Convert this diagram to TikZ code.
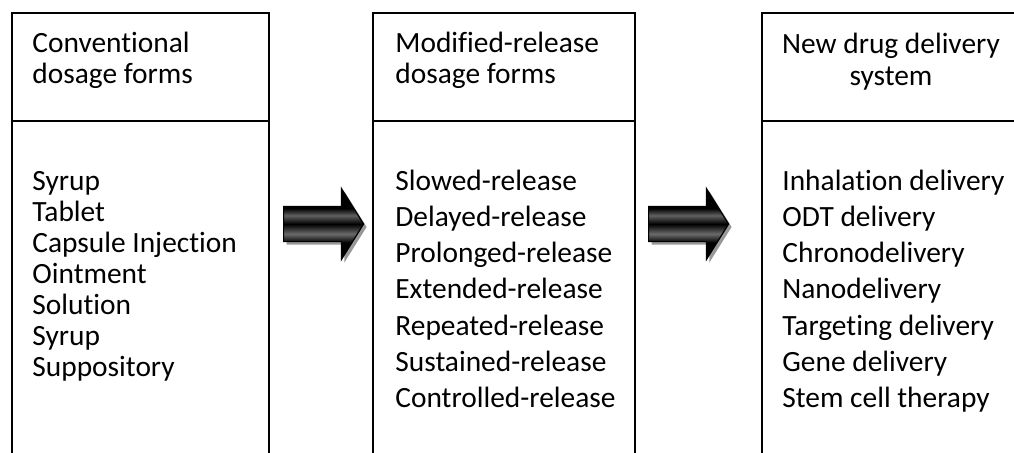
\documentclass[tikz,border=0pt]{standalone}
\usepackage{fontspec}
\setmainfont{Carlito}[Ligatures=CommonOff]
\usetikzlibrary{shapes.arrows,shadows}

% dark arrow body, lighter bands above and below the middle
\pgfdeclareverticalshading{arrowshade}{100bp}{color(0bp)=(black); color(37bp)=(black); color(43bp)=(black!58); color(50bp)=(black); color(56bp)=(black!62); color(61bp)=(black); color(100bp)=(black)}

\tikzset{
  panel/.style={draw=black, line width=1pt},
  item/.style={anchor=base west, inner sep=0pt, font=\fontsize{14.7pt}{17pt}\selectfont},
  headc/.style={anchor=base, inner sep=0pt, font=\fontsize{14.7pt}{17pt}\selectfont},
  blockarrow/.style={single arrow, draw=black, line width=0.6pt, shading=arrowshade,
    inner sep=0pt, text height=8.5pt, text depth=8.5pt, minimum height=40pt,
    single arrow head extend=9pt, single arrow tip angle=116,
    drop shadow={shadow xshift=1.5pt, shadow yshift=-1.5pt, fill=black!40, opacity=1}}
}

\begin{document}
\begin{tikzpicture}[x=0.5pt,y=-0.5pt]
\useasboundingbox (0,0) rectangle (1014,452);
\clip (0,0) rectangle (1014,452);

% three boxes with their title strip
\draw [panel] (12,13) rectangle (269,480);
\draw [panel] (12,121) -- (269,121);
\draw [panel] (373,13) rectangle (635,480);
\draw [panel] (373,121) -- (635,121);
\draw [panel] (762,13) rectangle (1022,480);
\draw [panel] (762,121) -- (1022,121);

% titles
\node [item] (convtitleA) at (32,52) {Conventional};
\node [item] (convtitleB) at (32,83) {dosage forms};
\node [item] (modtitleA) at (395,52) {Modified-release};
\node [item] (modtitleB) at (395,83) {dosage forms};
\node [headc] (newtitleA) at (891,53) {New drug delivery};
\node [headc] (newtitleB) at (891,85) {system};

% lists
\foreach \txt [count=\i] in {Syrup,Tablet,Capsule Injection,Ointment,Solution,Syrup,Suppository}
  \node [item] (conv\i) at (32,{190+31*(\i-1)}) {\txt};
\foreach \txt [count=\i] in {Slowed-release,Delayed-release,Prolonged-release,Extended-release,Repeated-release,Sustained-release,Controlled-release}
  \node [item] (mod\i) at (395,{190+36.3*(\i-1)}) {\txt};
\foreach \txt [count=\i] in {Inhalation delivery,ODT delivery,Chronodelivery,Nanodelivery,Targeting delivery,Gene delivery,Stem cell therapy}
  \node [item] (new\i) at (782,{190+36.3*(\i-1)}) {\txt};

% arrows between the boxes
\node [blockarrow, anchor=tail] (stepA) at (283,224) {};
\node [blockarrow, anchor=tail] (stepB) at (648,224) {};
\end{tikzpicture}
\end{document}
